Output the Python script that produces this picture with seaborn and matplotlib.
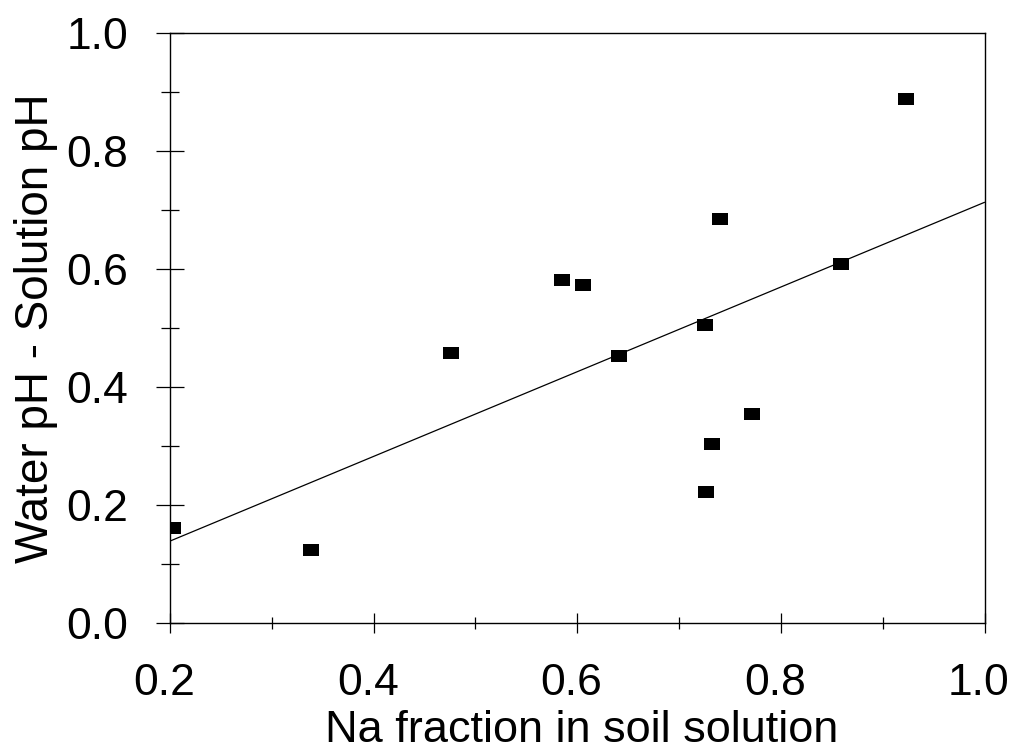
import matplotlib
matplotlib.use("Agg")
import matplotlib.pyplot as plt
import matplotlib.transforms as mtransforms
from matplotlib.path import Path
import seaborn as sns
import numpy as np
import pandas as pd
from matplotlib.ticker import MultipleLocator

na_fraction = [0.203, 0.338, 0.476, 0.585, 0.606, 0.641, 0.725, 0.740, 0.732, 0.726, 0.772, 0.859, 0.923]
ph_diff = [0.161, 0.124, 0.458, 0.581, 0.573, 0.453, 0.505, 0.685, 0.303, 0.222, 0.354, 0.608, 0.888]
x_ticks = [0.2, 0.4, 0.6, 0.8, 1.0]
y_ticks = [0.0, 0.2, 0.4, 0.6, 0.8, 1.0]

df = pd.DataFrame({"na": na_fraction, "dph": ph_diff})

sns.set_theme(style="white")
plt.rcParams['font.family'] = ['Liberation Sans', 'DejaVu Sans']

fig = plt.figure(figsize=(10.15, 7.53), dpi=100)
ax = fig.add_axes([0.1675, 0.1726, 0.8025, 0.7836])
ax.set_xlim(0.2, 1.0)
ax.set_ylim(0.0, 1.0)

rect_marker = Path([(-0.625, -0.5), (0.625, -0.5), (0.625, 0.5), (-0.625, 0.5), (-0.625, -0.5)],
                   [Path.MOVETO, Path.LINETO, Path.LINETO, Path.LINETO, Path.CLOSEPOLY])

sns.regplot(data=df, x="na", y="dph", ax=ax, ci=None, truncate=False,
            marker=rect_marker,
            scatter_kws=dict(s=120, color="black", edgecolor="black", linewidths=0, alpha=1),
            line_kws=dict(color="black", linewidth=0.9))
ax.set_xlim(0.2, 1.0)
ax.set_ylim(0.0, 1.0)

ax.set_xticks(x_ticks)
ax.set_yticks(y_ticks)
ax.set_xticklabels([f"{v:.1f}" for v in x_ticks])
ax.set_yticklabels([f"{v:.1f}" for v in y_ticks])
ax.xaxis.set_minor_locator(MultipleLocator(0.1))
ax.yaxis.set_minor_locator(MultipleLocator(0.1))

ax.tick_params(axis="x", which="major", direction="inout", length=15, width=0.9,
               color="black", labelsize=32, pad=21, bottom=True, top=False,
               labelcolor="black")
ax.tick_params(axis="x", which="minor", direction="inout", length=8, width=0.9,
               color="black", bottom=True, top=False)
ax.tick_params(axis="y", which="major", direction="inout", length=20, width=0.9,
               color="black", labelsize=32, pad=20, left=True, right=False,
               labelcolor="black")
ax.tick_params(axis="y", which="minor", direction="inout", length=13, width=0.9,
               color="black", left=True, right=False)

shift = mtransforms.ScaledTranslation(-0.06, 0, fig.dpi_scale_trans)
for lbl in ax.get_xticklabels():
    lbl.set_transform(lbl.get_transform() + shift)

for s in ax.spines.values():
    s.set_visible(True)
    s.set_color("black")
    s.set_linewidth(1.0)

ax.set_xlabel("Na fraction in soil solution", fontsize=32.5, color="black")
ax.set_ylabel("Water pH - Solution pH", fontsize=33, color="black")
ax.xaxis.set_label_coords(0.505, -0.147)
ax.yaxis.set_label_coords(-0.137, 0.5)
ax.grid(False)

fig.savefig("out.png", dpi=100, facecolor="white")
